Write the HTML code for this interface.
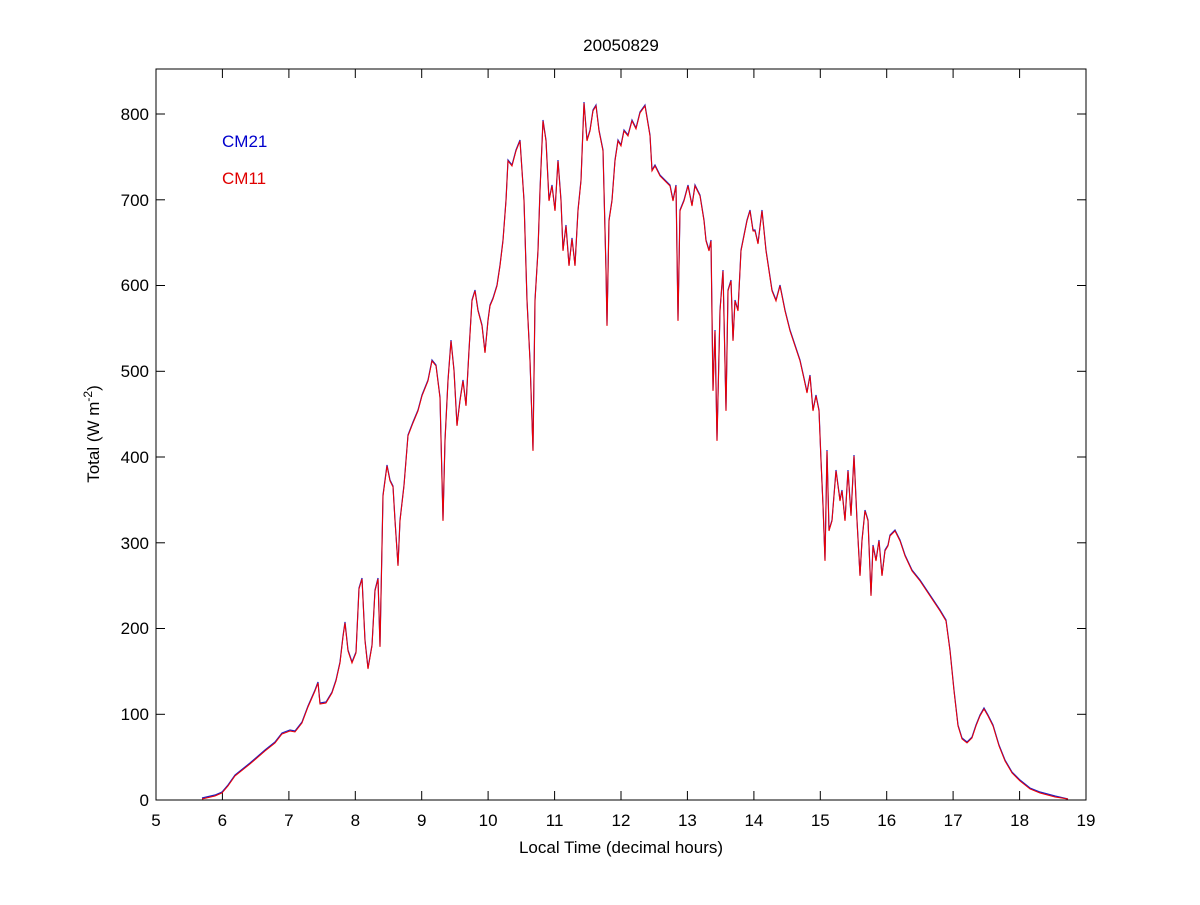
<!DOCTYPE html>
<html><head><meta charset="utf-8"><style>
html,body{margin:0;padding:0;background:#fff;}
svg text{font-family:"Liberation Sans",Arial,sans-serif;font-size:17px;fill:#000;}
</style></head><body>
<svg width="1200" height="900" viewBox="0 0 1200 900" xmlns="http://www.w3.org/2000/svg">
<rect width="1200" height="900" fill="#fff"/>
<rect x="156" y="69" width="930" height="731" fill="none" stroke="#000" stroke-width="1"/>
<g stroke="#000" stroke-width="1">
<line x1="156" y1="800" x2="156" y2="791"/><line x1="156" y1="69" x2="156" y2="78"/>
<line x1="222.4" y1="800" x2="222.4" y2="791"/><line x1="222.4" y1="69" x2="222.4" y2="78"/>
<line x1="288.9" y1="800" x2="288.9" y2="791"/><line x1="288.9" y1="69" x2="288.9" y2="78"/>
<line x1="355.3" y1="800" x2="355.3" y2="791"/><line x1="355.3" y1="69" x2="355.3" y2="78"/>
<line x1="421.7" y1="800" x2="421.7" y2="791"/><line x1="421.7" y1="69" x2="421.7" y2="78"/>
<line x1="488.1" y1="800" x2="488.1" y2="791"/><line x1="488.1" y1="69" x2="488.1" y2="78"/>
<line x1="554.6" y1="800" x2="554.6" y2="791"/><line x1="554.6" y1="69" x2="554.6" y2="78"/>
<line x1="621" y1="800" x2="621" y2="791"/><line x1="621" y1="69" x2="621" y2="78"/>
<line x1="687.4" y1="800" x2="687.4" y2="791"/><line x1="687.4" y1="69" x2="687.4" y2="78"/>
<line x1="753.9" y1="800" x2="753.9" y2="791"/><line x1="753.9" y1="69" x2="753.9" y2="78"/>
<line x1="820.3" y1="800" x2="820.3" y2="791"/><line x1="820.3" y1="69" x2="820.3" y2="78"/>
<line x1="886.7" y1="800" x2="886.7" y2="791"/><line x1="886.7" y1="69" x2="886.7" y2="78"/>
<line x1="953.1" y1="800" x2="953.1" y2="791"/><line x1="953.1" y1="69" x2="953.1" y2="78"/>
<line x1="1019.6" y1="800" x2="1019.6" y2="791"/><line x1="1019.6" y1="69" x2="1019.6" y2="78"/>
<line x1="156" y1="714.3" x2="165" y2="714.3"/><line x1="1086" y1="714.3" x2="1077" y2="714.3"/>
<line x1="156" y1="628.5" x2="165" y2="628.5"/><line x1="1086" y1="628.5" x2="1077" y2="628.5"/>
<line x1="156" y1="542.8" x2="165" y2="542.8"/><line x1="1086" y1="542.8" x2="1077" y2="542.8"/>
<line x1="156" y1="457" x2="165" y2="457"/><line x1="1086" y1="457" x2="1077" y2="457"/>
<line x1="156" y1="371.3" x2="165" y2="371.3"/><line x1="1086" y1="371.3" x2="1077" y2="371.3"/>
<line x1="156" y1="285.5" x2="165" y2="285.5"/><line x1="1086" y1="285.5" x2="1077" y2="285.5"/>
<line x1="156" y1="199.8" x2="165" y2="199.8"/><line x1="1086" y1="199.8" x2="1077" y2="199.8"/>
<line x1="156" y1="114" x2="165" y2="114"/><line x1="1086" y1="114" x2="1077" y2="114"/>
</g>
<g text-anchor="middle">
<text x="156" y="826">5</text><text x="222.4" y="826">6</text><text x="288.9" y="826">7</text>
<text x="355.3" y="826">8</text><text x="421.7" y="826">9</text><text x="488.1" y="826">10</text>
<text x="554.6" y="826">11</text><text x="621" y="826">12</text><text x="687.4" y="826">13</text>
<text x="753.9" y="826">14</text><text x="820.3" y="826">15</text><text x="886.7" y="826">16</text>
<text x="953.1" y="826">17</text><text x="1019.6" y="826">18</text><text x="1086" y="826">19</text>
</g>
<g text-anchor="end">
<text x="149" y="806">0</text><text x="149" y="720">100</text><text x="149" y="634">200</text>
<text x="149" y="549">300</text><text x="149" y="463">400</text><text x="149" y="377">500</text>
<text x="149" y="291">600</text><text x="149" y="206">700</text><text x="149" y="120">800</text>
</g>
<text x="621" y="51" text-anchor="middle">20050829</text>
<text x="621" y="853" text-anchor="middle">Local Time (decimal hours)</text>
<text transform="translate(99,434) rotate(-90)" text-anchor="middle">Total (W m<tspan dy="-7" font-size="12">-2</tspan><tspan dy="7">)</tspan></text>
<text x="222" y="147" style="fill:#0000cc">CM21</text>
<text x="222" y="184" style="fill:#e00000">CM11</text>
<polyline fill="none" stroke="#2020c0" stroke-width="1.2" points="202,798 215,795 222,792 228,785 235,775 250,763 265,750 275,742 282,733 290,730 295,731 302,722 308,706 315,690 318,682 320,703 326,702 332,692 336,680 340,662 343,636 345,622 348,650 352,662 356,652 359,588 362,578 365,640 368,668 372,645 375,590 378,578 380,646 383,495 387,465 390,480 393,486 395,520 398,565 400,520 404,485 408,435 413,422 418,410 422,395 428,380 432,360 436,365 440,397 443,520 445,440 448,380 451,340 454,370 457,425 460,400 463,380 466,405 469,350 472,300 475,290 478,310 482,325 485,352 488,320 490,305 493,298 497,285 500,265 503,240 506,200 508,160 512,165 516,150 520,140 524,200 527,300 530,360 533,450 535,300 538,250 540,190 543,120 546,140 549,200 552,185 555,210 558,160 561,200 563,250 566,225 569,265 572,238 575,265 578,210 581,180 584,102 587,140 590,130 593,110 596,105 599,130 603,150 606,270 607,325 609,220 612,200 615,160 618,140 621,145 624,130 628,135 632,120 636,128 640,112 645,105 650,135 652,170 655,165 660,175 665,180 670,185 673,200 676,185 678,320 680,210 684,200 688,185 692,205 695,185 700,195 704,220 706,240 709,250 711,240 713,390 715,330 717,440 720,310 723,270 726,410 728,290 731,280 733,340 735,300 738,310 741,250 744,235 747,220 750,210 753,230 755,230 758,243 762,210 766,250 769,270 772,290 776,300 780,285 785,310 790,330 795,345 800,360 804,378 807,392 810,375 813,410 816,395 819,410 821,460 823,505 825,560 827,450 829,530 832,520 836,470 840,500 842,490 845,520 848,470 851,515 854,455 857,520 860,575 862,540 865,510 868,520 871,595 873,545 876,560 879,540 882,575 885,550 888,545 890,535 895,530 900,540 905,555 912,570 920,580 930,595 940,610 946,620 950,650 954,690 958,725 962,738 967,742 972,737 976,725 980,715 984,708 988,715 993,725 999,745 1005,760 1012,772 1020,780 1030,788 1040,792 1055,796 1068,799"/>
<polyline fill="none" stroke="#f00000" stroke-width="1" transform="translate(0,1)" points="202,798 215,795 222,792 228,785 235,775 250,763 265,750 275,742 282,733 290,730 295,731 302,722 308,706 315,690 318,682 320,703 326,702 332,692 336,680 340,662 343,636 345,622 348,650 352,662 356,652 359,588 362,578 365,640 368,668 372,645 375,590 378,578 380,646 383,495 387,465 390,480 393,486 395,520 398,565 400,520 404,485 408,435 413,422 418,410 422,395 428,380 432,360 436,365 440,397 443,520 445,440 448,380 451,340 454,370 457,425 460,400 463,380 466,405 469,350 472,300 475,290 478,310 482,325 485,352 488,320 490,305 493,298 497,285 500,265 503,240 506,200 508,160 512,165 516,150 520,140 524,200 527,300 530,360 533,450 535,300 538,250 540,190 543,120 546,140 549,200 552,185 555,210 558,160 561,200 563,250 566,225 569,265 572,238 575,265 578,210 581,180 584,102 587,140 590,130 593,110 596,105 599,130 603,150 606,270 607,325 609,220 612,200 615,160 618,140 621,145 624,130 628,135 632,120 636,128 640,112 645,105 650,135 652,170 655,165 660,175 665,180 670,185 673,200 676,185 678,320 680,210 684,200 688,185 692,205 695,185 700,195 704,220 706,240 709,250 711,240 713,390 715,330 717,440 720,310 723,270 726,410 728,290 731,280 733,340 735,300 738,310 741,250 744,235 747,220 750,210 753,230 755,230 758,243 762,210 766,250 769,270 772,290 776,300 780,285 785,310 790,330 795,345 800,360 804,378 807,392 810,375 813,410 816,395 819,410 821,460 823,505 825,560 827,450 829,530 832,520 836,470 840,500 842,490 845,520 848,470 851,515 854,455 857,520 860,575 862,540 865,510 868,520 871,595 873,545 876,560 879,540 882,575 885,550 888,545 890,535 895,530 900,540 905,555 912,570 920,580 930,595 940,610 946,620 950,650 954,690 958,725 962,738 967,742 972,737 976,725 980,715 984,708 988,715 993,725 999,745 1005,760 1012,772 1020,780 1030,788 1040,792 1055,796 1068,798"/>
</svg>
</body></html>
